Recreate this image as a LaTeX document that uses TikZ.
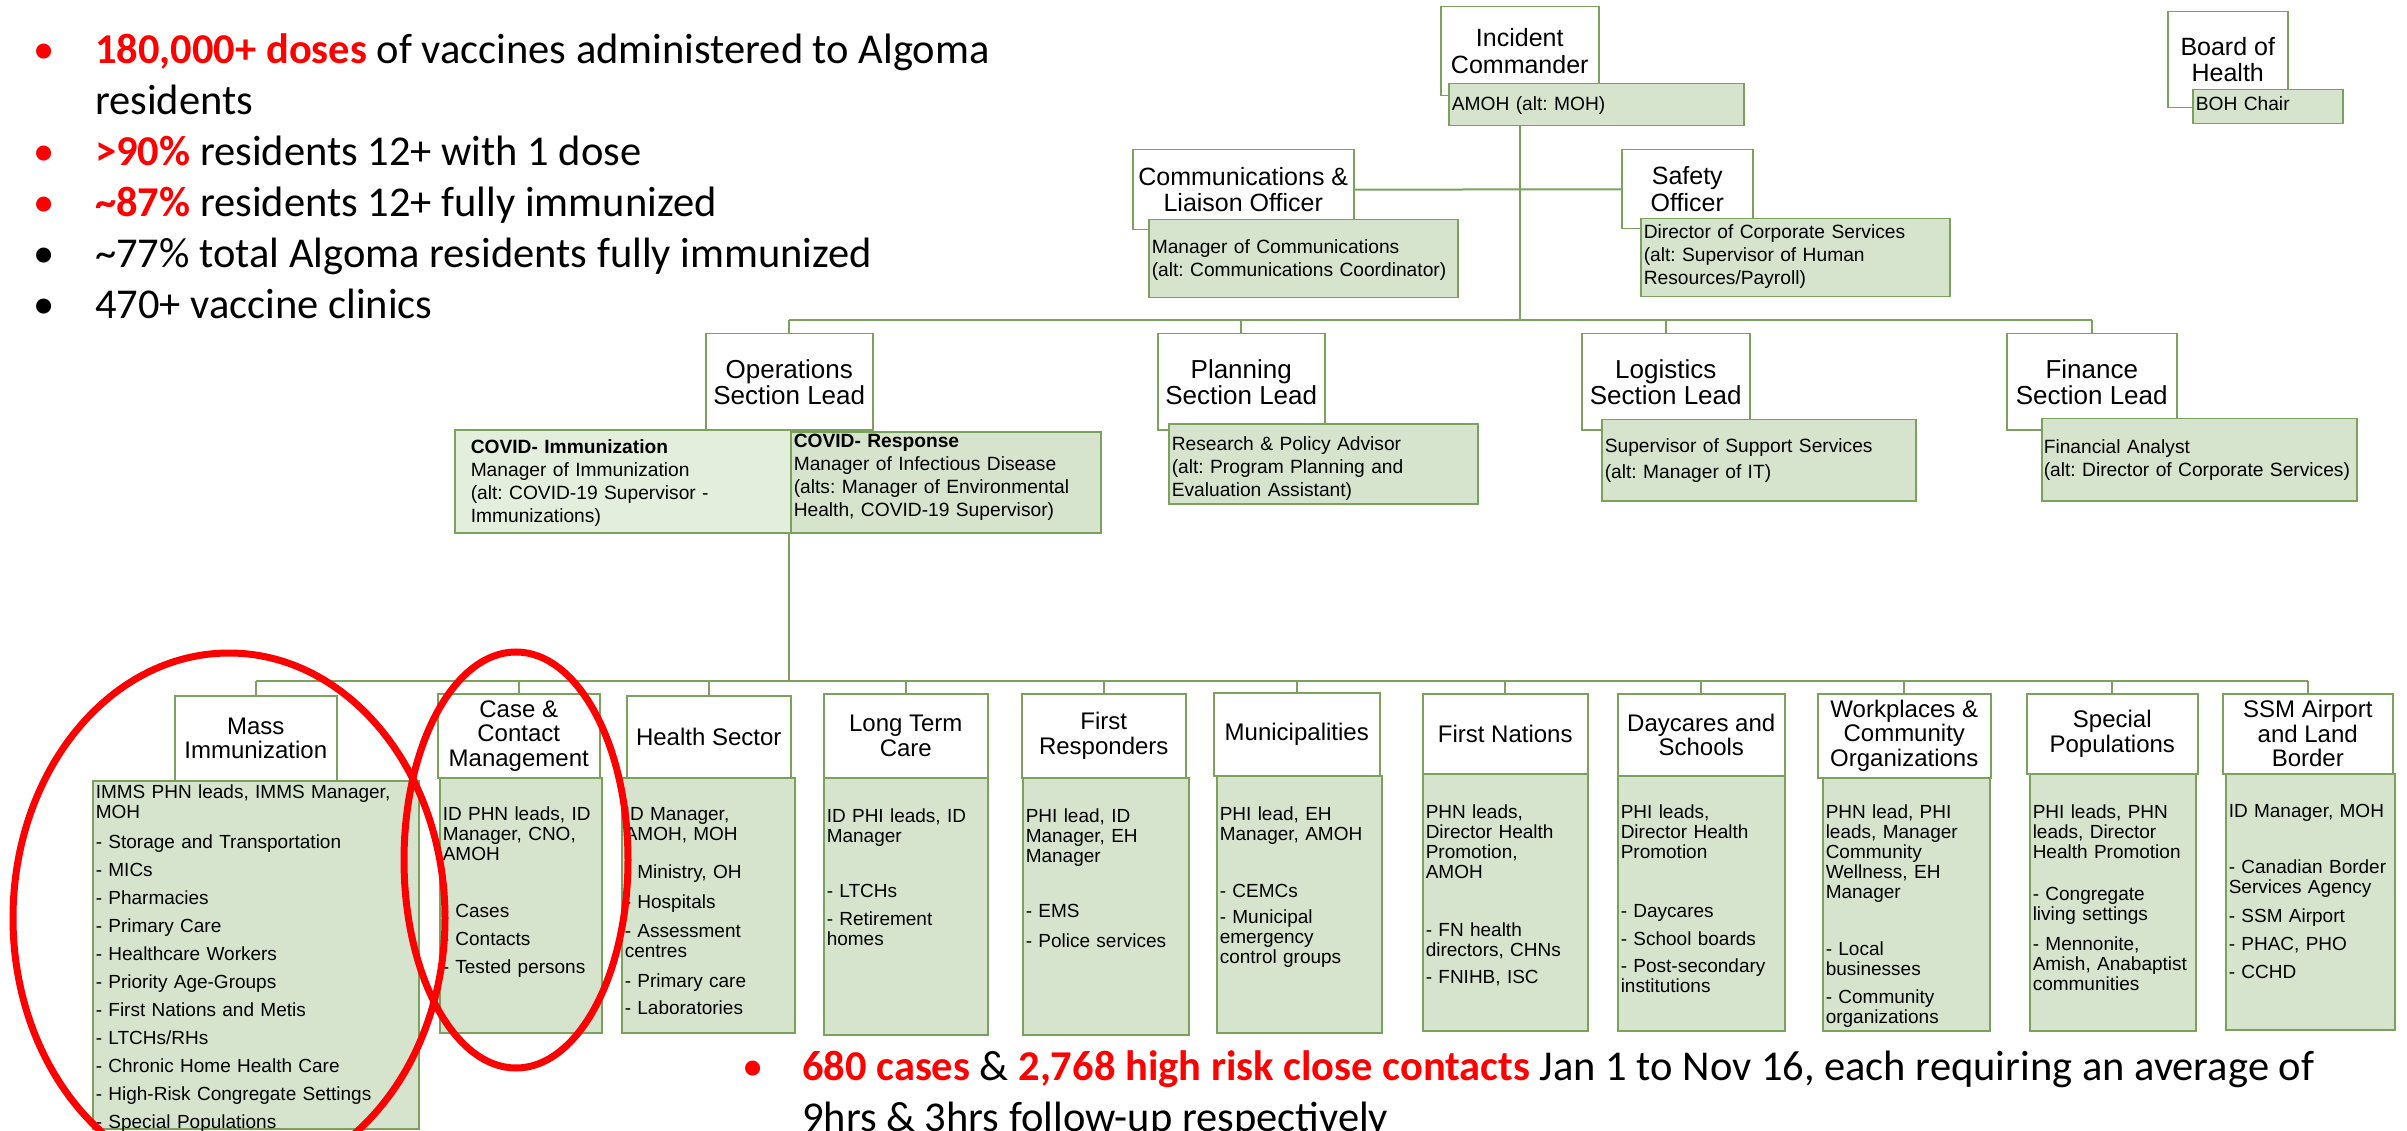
\documentclass[tikz,border=0pt]{standalone}
\usepackage{fontspec}
\setmainfont{Liberation Sans}
\newfontfamily\notefont{Carlito}
\usepackage{xcolor}
\usepackage{tikz}
\usetikzlibrary{backgrounds}

\definecolor{linegreen}{RGB}{122,162,92}
\definecolor{boxgreen}{RGB}{215,228,205}
\definecolor{palegreen}{RGB}{228,238,220}
\definecolor{alertred}{RGB}{255,0,0}

\frenchspacing
\hyphenpenalty=10000
\exhyphenpenalty=10000

\newcommand{\sizeHead}{\fontsize{25}{26.5}\selectfont}
\newcommand{\sizeLead}{\fontsize{26}{26}\selectfont}
\newcommand{\sizeUnit}{\fontsize{24}{24.5}\selectfont}
\newcommand{\sizeRole}{\fontsize{19.2}{23}\selectfont}
\newcommand{\sizeList}{\fontsize{19}{20}\selectfont}
\newcommand{\sizeNote}{\notefont\fontsize{42.5}{51}\selectfont}
\newcommand{\hot}[1]{\textcolor{alertred}{\bfseries #1}}

\begin{document}
\begin{tikzpicture}[x=1pt,y=-1pt,
    link/.style={draw=linegreen,line width=2pt},
    headbox/.style={draw=linegreen,line width=1.5pt,fill=white,anchor=north west,
                    inner sep=0pt,align=center,font=\sizeHead},
    leadbox/.style={headbox,font=\sizeLead},
    unitbox/.style={headbox,font=\sizeUnit},
    rolebox/.style={draw=linegreen,line width=1.5pt,fill=boxgreen,anchor=north west,
                    inner xsep=3pt,inner ysep=0pt,align=left,font=\sizeRole},
    listbox/.style={rolebox,font=\sizeList,text height=43pt,text depth=212pt},
    note/.style={anchor=base west,align=left,inner sep=0pt,font=\sizeNote},
    circled/.style={draw=alertred,line width=7pt}]

  \useasboundingbox (0,0) rectangle (2407,1131);
  \clip (0,0) rectangle (2407,1131);

  % command staff
  \node[headbox,minimum width=158pt,minimum height=89pt] (ic) at (1440,6) {Incident\\Commander};
  \node[rolebox,text width=289pt,text height=27pt,text depth=15pt] (amoh) at (1448,83) {AMOH (alt: MOH)};
  \node[headbox,minimum width=120pt,minimum height=96pt] (boh) at (2167,11) {Board of\\Health};
  \node[rolebox,text width=144pt,text height=21pt,text depth=13pt] (bohc) at (2192,89) {BOH Chair};
  \node[headbox,minimum width=221pt,minimum height=80pt] (comm) at (1132,149) {Communications \&\\Liaison Officer};
  \node[rolebox,text width=303pt,text height=34pt,text depth=44pt] (commg) at (1148,219)
    {Manager of Communications\\(alt: Communications Coordinator)};
  \node[headbox,minimum width=131pt,minimum height=79pt] (safe) at (1621,149) {Safety\\Officer};
  \node[rolebox,text width=303pt,text height=20pt,text depth=58pt] (safeg) at (1640,218)
    {Director of Corporate Services\\(alt: Supervisor of Human\\Resources/Payroll)};

  % section leads
  \node[leadbox,minimum width=167pt,minimum height=96pt] (ops) at (705,333) {Operations\\Section Lead};
  \node[rolebox,fill=palegreen,inner xsep=16pt,text width=304pt,text height=24pt,text depth=79pt] (covi) at (454,429)
    {{\bfseries COVID- Immunization}\\Manager of Immunization\\(alt: COVID-19 Supervisor -\\Immunizations)};
  \node[rolebox,text width=304pt,text height=16pt,text depth=85pt] (covr) at (790,431)
    {{\bfseries COVID- Response}\\Manager of Infectious Disease\\(alts: Manager of Environmental\\Health, COVID-19 Supervisor)};
  \node[leadbox,minimum width=167pt,minimum height=96pt] (plan) at (1157,333) {Planning\\Section Lead};
  \node[rolebox,text width=303pt,text height=27pt,text depth=53pt] (plang) at (1168,423)
    {Research \& Policy Advisor\\(alt: Program Planning and\\Evaluation Assistant)};
  \node[leadbox,minimum width=168pt,minimum height=96pt] (logi) at (1581,333) {Logistics\\Section Lead};
  \node[rolebox,text width=308pt,text height=33pt,text depth=48pt] (logg) at (1601,419)
    {Supervisor of Support Services\\[3pt](alt: Manager of IT)};
  \node[leadbox,minimum width=170pt,minimum height=96pt] (fin) at (2006,333) {Finance\\Section Lead};
  \node[rolebox,inner xsep=2pt,text width=311pt,text height=35pt,text depth=47pt] (fing) at (2041,418)
    {Financial Analyst\\(alt: Director of Corporate Services)};

  % response units
  \node[unitbox,minimum width=162pt,minimum height=85pt] (mass) at (174,695) {Mass\\Immunization};
  \node[listbox,text width=320pt,text height=18pt,text depth=330pt] (massg) at (92,780)
    {IMMS PHN leads, IMMS Manager,\\MOH\\[10pt]- Storage and Transportation\\[8pt]- MICs\\[8pt]- Pharmacies\\[8pt]- Primary Care\\[8pt]- Healthcare Workers\\[8pt]- Priority Age-Groups\\[8pt]- First Nations and Metis\\[8pt]- LTCHs/RHs\\[8pt]- Chronic Home Health Care\\[8pt]- High-Risk Congregate Settings\\[8pt]- Special Populations};
  \node[unitbox,minimum width=162pt,minimum height=84pt] (case) at (437,693) {Case \&\\Contact\\Management};
  \node[listbox,text width=156pt] (caseg) at (439,777)
    {ID PHN leads, ID\\Manager, CNO,\\AMOH\\[37pt]- Cases\\[8pt]- Contacts\\[8pt]- Tested persons};
  \node[unitbox,minimum width=164pt,minimum height=82pt] (hs) at (626,695) {Health Sector};
  \node[listbox,text width=167pt] (hsg) at (621,777)
    {ID Manager,\\AMOH, MOH\\[18pt]- Ministry, OH\\[10pt]- Hospitals\\[9pt]- Assessment\\centres\\[10pt]- Primary care\\[7pt]- Laboratories};
  \node[unitbox,minimum width=164pt,minimum height=84pt] (ltc) at (823,693) {Long Term\\Care};
  \node[listbox,text width=158pt,text height=45pt] (ltcg) at (823,777)
    {ID PHI leads, ID\\Manager\\[35pt]- LTCHs\\[8pt]- Retirement\\homes};
  \node[unitbox,minimum width=164pt,minimum height=84pt] (fr) at (1021,693) {First\\Responders};
  \node[listbox,text width=160pt,text height=45pt] (frg) at (1022,777)
    {PHI lead, ID\\Manager, EH\\Manager\\[35pt]- EMS\\[10pt]- Police services};
  \node[unitbox,minimum width=166pt,minimum height=83pt] (mun) at (1213,692) {Municipalities};
  \node[listbox,text width=159pt,text height=45pt] (mung) at (1216,775)
    {PHI lead, EH\\Manager, AMOH\\[37pt]- CEMCs\\[6pt]- Municipal\\emergency\\control groups};
  \node[unitbox,minimum width=165pt,minimum height=80pt] (fn) at (1422,693) {First Nations};
  \node[listbox,text width=159pt,text height=45pt] (fng) at (1422,773)
    {PHN leads,\\Director Health\\Promotion,\\AMOH\\[38pt]- FN health\\directors, CHNs\\[7pt]- FNIHB, ISC};
  \node[unitbox,minimum width=167pt,minimum height=82pt] (day) at (1617,693) {Daycares and\\Schools};
  \node[listbox,text width=161pt] (dayg) at (1617,775)
    {PHI leads,\\Director Health\\Promotion\\[39pt]- Daycares\\[8pt]- School boards\\[7pt]- Post-secondary\\institutions};
  \node[unitbox,minimum width=173pt,minimum height=84pt] (work) at (1817,693) {Workplaces \&\\Community\\Organizations};
  \node[listbox,text width=161pt,text height=41pt] (workg) at (1822,777)
    {PHN lead, PHI\\leads, Manager\\Community\\Wellness, EH\\Manager\\[37pt]- Local\\businesses\\[8pt]- Community\\organizations};
  \node[unitbox,minimum width=171pt,minimum height=80pt] (spec) at (2026,693) {Special\\Populations};
  \node[listbox,text width=160pt,text height=45pt] (specg) at (2029,773)
    {PHI leads, PHN\\leads, Director\\Health Promotion\\[22pt]- Congregate\\living settings\\[10pt]- Mennonite,\\Amish, Anabaptist\\communities};
  \node[unitbox,minimum width=170pt,minimum height=80pt] (ssm) at (2222,693) {SSM Airport\\and Land\\Border};
  \node[listbox,text width=163pt,text height=44pt] (ssmg) at (2225,773)
    {ID Manager, MOH\\[36pt]- Canadian Border\\Services Agency\\[9pt]- SSM Airport\\[8pt]- PHAC, PHO\\[8pt]- CCHD};

  % reporting lines
  \begin{scope}[on background layer]
    \coordinate (topbus) at (0,320);
    \coordinate (lowbus) at (0,681);
    \path[link] (ic.south) edge (ic.south |- topbus)
                (comm) edge (safe)
                (ops.north |- topbus) edge (fin.north |- topbus)
                (ops.south) edge (ops.south |- lowbus)
                (mass.north |- lowbus) edge (ssm.north |- lowbus);
    \foreach \u in {ops,plan,logi,fin}
      \draw[link] (\u.north) -- (\u.north |- topbus);
    \foreach \u in {mass,case,hs,ltc,fr,mun,fn,day,work,spec,ssm}
      \draw[link] (\u.north) -- (\u.north |- lowbus);
  \end{scope}

  % highlights
  \draw[circled] (229,918) ellipse [x radius=216pt, y radius=265pt];
  \draw[circled] (516,860) ellipse [x radius=112pt, y radius=208pt];

  % the base anchor sits on the last line
  \node[note] (stats) at (33,319)
    {\makebox[62pt][l]{\textcolor{alertred}{•}}\hot{180,000+ doses} of vaccines administered to Algoma\\
     \hspace*{62pt}residents\\
     \makebox[62pt][l]{\textcolor{alertred}{•}}\hot{>90\%} residents 12+ with 1 dose\\
     \makebox[62pt][l]{\textcolor{alertred}{•}}\hot{\textasciitilde 87\%} residents 12+ fully immunized\\
     \makebox[62pt][l]{•}\textasciitilde 77\% total Algoma residents fully immunized\\
     \makebox[62pt][l]{•}470+ vaccine clinics};
  \node[note] (cases) at (742,1131)
    {\makebox[60pt][l]{\textcolor{alertred}{•}}\hot{680 cases} \& \hot{2,768 high risk close contacts} Jan 1 to Nov 16, each requiring an average of\\
     \hspace*{60pt}9hrs \& 3hrs follow-up respectively};
\end{tikzpicture}
\end{document}
